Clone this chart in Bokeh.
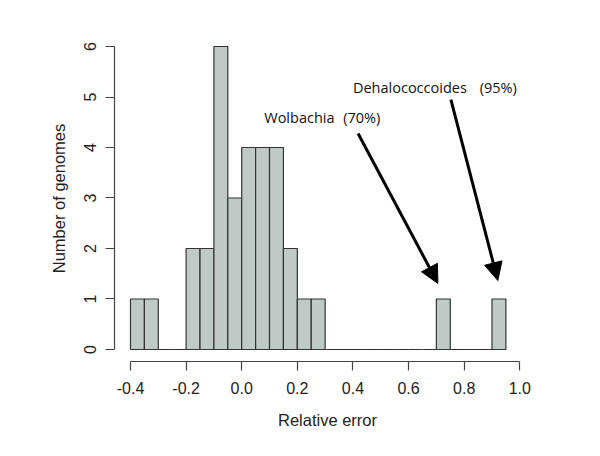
from bokeh.plotting import figure
from bokeh.models import Range1d, FixedTicker, PrintfTickFormatter, Arrow, NormalHead, ColumnDataSource
from bokeh.embed import file_html
from bokeh.resources import INLINE
from bokeh.core.properties import value

# Histogram bins (width 0.05) and counts
bin_left = [-0.40, -0.35, -0.30, -0.25, -0.20, -0.15, -0.10, -0.05, 0.00, 0.05,
            0.10, 0.15, 0.20, 0.25, 0.30, 0.35, 0.40, 0.45, 0.50, 0.55,
            0.60, 0.65, 0.70, 0.75, 0.80, 0.85, 0.90]
bin_right = [-0.35, -0.30, -0.25, -0.20, -0.15, -0.10, -0.05, 0.00, 0.05, 0.10,
             0.15, 0.20, 0.25, 0.30, 0.35, 0.40, 0.45, 0.50, 0.55, 0.60,
             0.65, 0.70, 0.75, 0.80, 0.85, 0.90, 0.95]
counts = [1, 1, 0, 0, 2, 2, 6, 3, 4, 4,
          4, 2, 1, 1, 0, 0, 0, 0, 0, 0,
          0, 0, 1, 0, 0, 0, 1]

x_ticks = [-0.4, -0.2, 0.0, 0.2, 0.4, 0.6, 0.8, 1.0]
y_ticks = [0, 1, 2, 3, 4, 5, 6]

# Annotations
label_text = ["Wolbachia", "(70%)", "Dehalococcoides", "(95%)"]
label_x = [0.081, 0.365, 0.400, 0.856]
label_y = [4.59, 4.59, 5.19, 5.19]

arrow_x_start = [0.4185, 0.7523]
arrow_y_start = [4.277, 4.95]
arrow_x_end = [0.7056, 0.921]
arrow_y_end = [1.307, 1.366]

p = figure(width=584, height=440, output_backend="svg", toolbar_location=None,
           x_range=Range1d(-0.4575, 1.0745), y_range=Range1d(-0.238, 6.218),
           min_border_left=114, min_border_right=44, min_border_top=35, min_border_bottom=79)
p.outline_line_color = None
p.xgrid.grid_line_color = None
p.ygrid.grid_line_color = None
p.background_fill_color = "white"
p.border_fill_color = "white"

src = ColumnDataSource(dict(left=bin_left, right=bin_right, top=counts, bottom=[0] * len(counts)))
p.quad(left="left", right="right", top="top", bottom="bottom", source=src,
       fill_color="#bfcac7", line_color="#333333", line_width=1.2)

for ax in (p.xaxis[0], p.yaxis[0]):
    ax.axis_line_color = "#444444"
    ax.axis_line_width = 1.2
    ax.major_tick_line_color = "#444444"
    ax.major_tick_line_width = 1.2
    ax.major_tick_out = 9
    ax.major_tick_in = 0
    ax.minor_tick_line_color = None
    ax.major_label_text_font = "Liberation Sans"
    ax.major_label_text_font_size = "16px"
    ax.major_label_text_color = "#222222"
    ax.axis_label_text_font = "Liberation Sans"
    ax.axis_label_text_font_size = "16.5px"
    ax.axis_label_text_font_style = "normal"
    ax.axis_label_text_color = "#222222"

p.xaxis[0].ticker = FixedTicker(ticks=x_ticks)
p.xaxis[0].formatter = PrintfTickFormatter(format="%.1f")
p.xaxis[0].bounds = (x_ticks[0], x_ticks[-1])
p.xaxis[0].axis_label = "Relative error"
p.xaxis[0].major_label_standoff = 11
p.xaxis[0].axis_label_standoff = 14

p.yaxis[0].ticker = FixedTicker(ticks=y_ticks)
p.yaxis[0].bounds = (y_ticks[0], y_ticks[-1])
p.yaxis[0].axis_label = "Number of genomes"
p.yaxis[0].major_label_orientation = "vertical"
p.yaxis[0].major_label_standoff = 9
p.yaxis[0].axis_label_standoff = 14

p.text(x=label_x, y=label_y, text=label_text, text_font=value("Open Sans"),
       text_font_size="14.5px", text_color="#111111", text_baseline="alphabetic", text_align="left")

for xs, ys, xe, ye in zip(arrow_x_start, arrow_y_start, arrow_x_end, arrow_y_end):
    p.add_layout(Arrow(end=NormalHead(size=18, fill_color="black", line_color="black"),
                       x_start=xs, y_start=ys, x_end=xe, y_end=ye,
                       line_color="black", line_width=3))

open("out.html", "w").write(file_html(p, INLINE))
